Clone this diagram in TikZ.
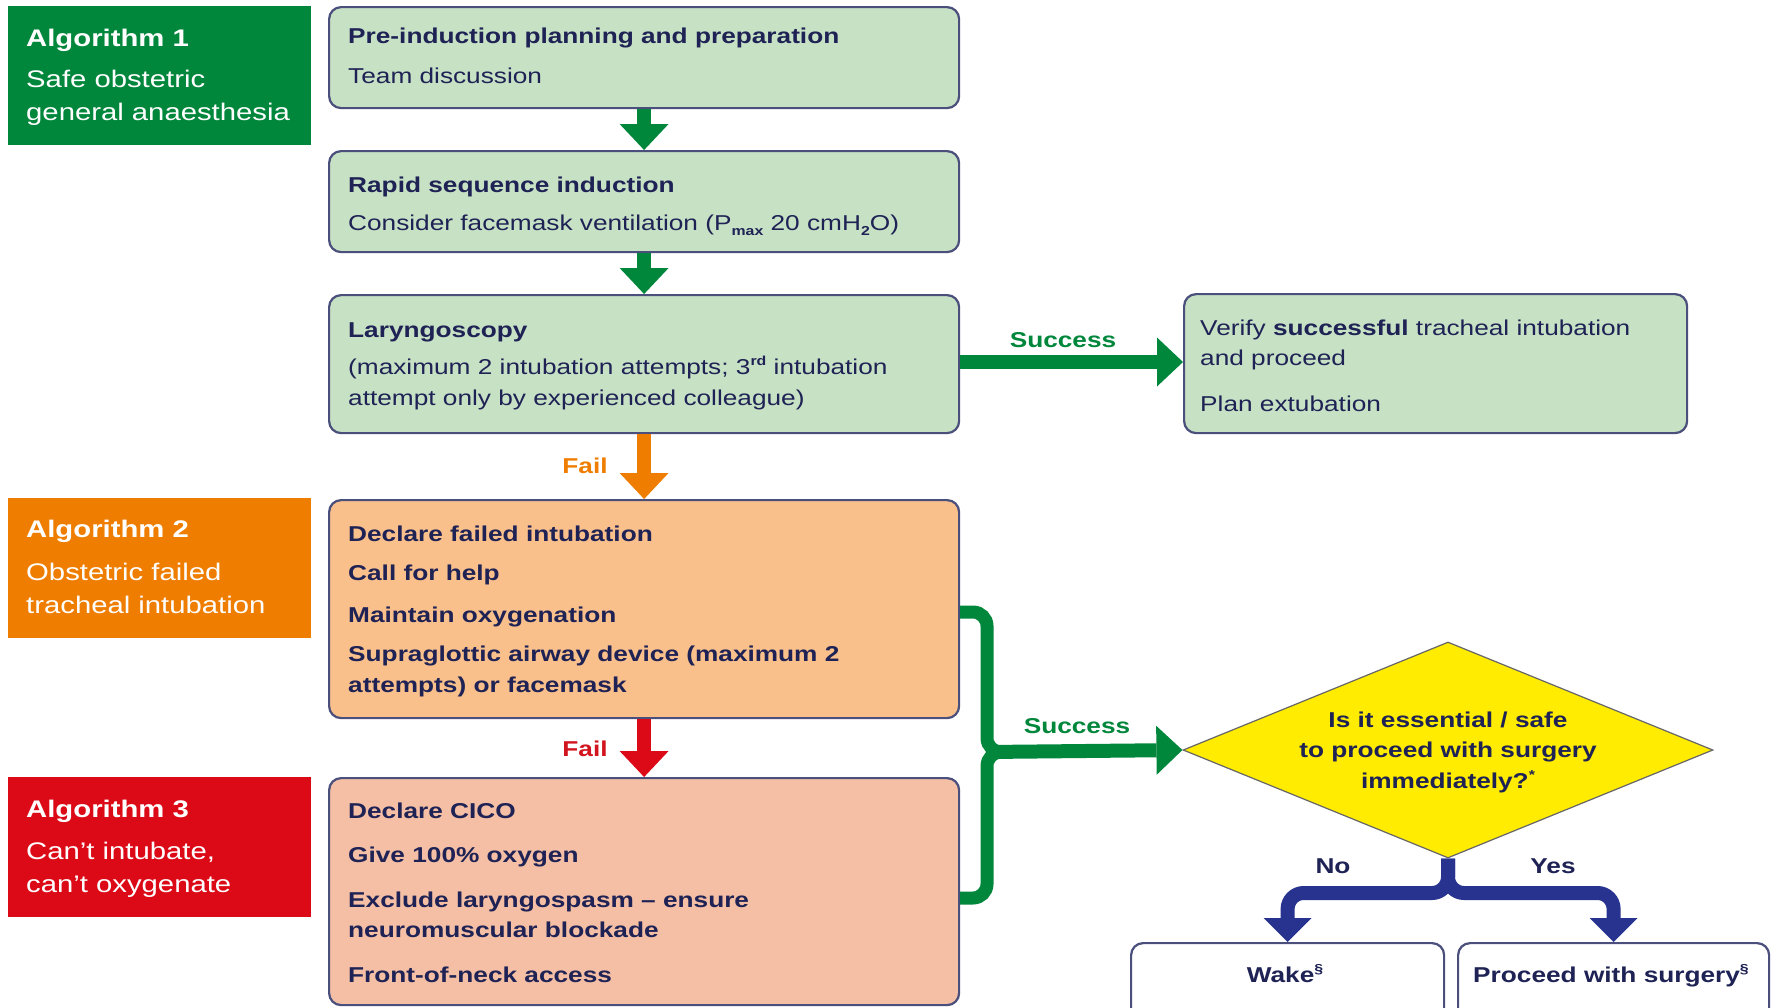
\documentclass[tikz,border=0pt]{standalone}
\usepackage{fontspec}
\setmainfont{Liberation Sans}[FakeStretch=1.22]
\usetikzlibrary{arrows.meta,shapes.geometric}

\definecolor{algGreen}{HTML}{00873C}
\definecolor{boxGreen}{HTML}{C7E1C5}
\definecolor{algOrange}{HTML}{EE7D00}
\definecolor{boxOrange}{HTML}{F9C08C}
\definecolor{algRed}{HTML}{DC0A17}
\definecolor{boxSalmon}{HTML}{F4BFA5}
\definecolor{navyText}{HTML}{1E2254}
\definecolor{borderNavy}{HTML}{4A4F7C}
\definecolor{arrowBlue}{HTML}{27338E}
\definecolor{diaYellow}{HTML}{FFEC00}
\definecolor{failRed}{HTML}{D2141E}

\newcommand{\bodyfont}{\fontsize{21.5}{30.5}\selectfont}
\newcommand{\labfont}{\fontsize{24}{33}\selectfont}
\newcommand{\mysubs}[1]{\raisebox{-0.5ex}{\fontsize{13}{13}\selectfont\bfseries #1}}
\newcommand{\mysups}[1]{\raisebox{0.75ex}{\fontsize{13}{13}\selectfont\bfseries #1}}

\begin{document}
\begin{tikzpicture}[x=1pt,y=-1pt,
  alglabel/.style={inner sep=0pt, anchor=north west},
  labtext/.style={anchor=base west, align=left, inner sep=0pt, text=white, font=\labfont},
  mainbox/.style={draw=borderNavy, line width=2.2pt, rounded corners=12pt, inner sep=0pt, anchor=north west},
  bodytext/.style={anchor=base west, align=left, inner sep=0pt, text=navyText, font=\bodyfont},
  centertext/.style={anchor=base, align=center, inner sep=0pt, text=navyText, font=\bodyfont\bfseries},
  arrlabel/.style={anchor=base, inner sep=0pt, font=\bodyfont\bfseries},
  greenarrow/.style={draw=algGreen, line width=14pt, -{Triangle[width=49pt,length=26pt,line width=0pt]}},
  orangearrow/.style={draw=algOrange, line width=14pt, -{Triangle[width=49pt,length=26pt,line width=0pt]}},
  redarrow/.style={draw=algRed, line width=14pt, -{Triangle[width=49pt,length=26pt,line width=0pt]}},
  bluearrow/.style={draw=arrowBlue, line width=14pt, rounded corners=16pt, -{Triangle[width=48pt,length=24pt,line width=0pt]}},
  greenline/.style={draw=algGreen, line width=13pt, rounded corners=14pt}
]
\clip (0,0) rectangle (1779,1007);
\fill[white] (0,0) rectangle (1779,1007);

% algorithm labels (text anchored at baseline of last line)
\node[alglabel, fill=algGreen, minimum width=303pt, minimum height=139pt] (alg1) at (8,6) {};
\node[labtext] (alg1t) at (26,120) {\textbf{Algorithm 1}\\[8pt] Safe obstetric\\ general anaesthesia};
\node[alglabel, fill=algOrange, minimum width=303pt, minimum height=140pt] (alg2) at (8,498) {};
\node[labtext] (alg2t) at (26,613) {\textbf{Algorithm 2}\\[10pt] Obstetric failed\\ tracheal intubation};
\node[alglabel, fill=algRed, minimum width=303pt, minimum height=140pt] (alg3) at (8,777) {};
\node[labtext] (alg3t) at (26,892) {\textbf{Algorithm 3}\\[9pt] Can’t intubate,\\ can’t oxygenate};

% main boxes
\node[mainbox, fill=boxGreen, minimum width=630pt, minimum height=101pt] (b1) at (328,6) {};
\node[mainbox, fill=boxGreen, minimum width=630pt, minimum height=101pt] (b2) at (328,150) {};
\node[mainbox, fill=boxGreen, minimum width=630pt, minimum height=138pt] (b3) at (328,294) {};
\node[mainbox, fill=boxOrange, minimum width=630pt, minimum height=218pt] (b4) at (328,499) {};
\node[mainbox, fill=boxSalmon, minimum width=630pt, minimum height=227pt] (b5) at (328,777) {};
\node[mainbox, fill=boxGreen, minimum width=503pt, minimum height=139pt] (bv) at (1183,293) {};
\node[mainbox, fill=white, minimum width=313pt, minimum height=100pt] (wake) at (1130,942) {};
\node[mainbox, fill=white, minimum width=311pt, minimum height=100pt] (proc) at (1457,942) {};

% texts (anchored at baseline of last line)
\node[bodytext] (t1) at (348,83) {\textbf{Pre-induction planning and preparation}\\[9pt] Team discussion};
\node[bodytext] (t2) at (348,230) {\textbf{Rapid sequence induction}\\[7pt] Consider facemask ventilation (P\mysubs{max} 20 cmH\mysubs{2}O)};
\node[bodytext] (t3) at (348,405) {\textbf{Laryngoscopy}\\[7pt] (maximum 2 intubation attempts; 3\mysups{rd} intubation\\ attempt only by experienced colleague)};
\node[bodytext, font=\bodyfont\bfseries] (t4) at (348,692) {Declare failed intubation\\[9pt] Call for help\\[11pt] Maintain oxygenation\\[9pt] Supraglottic airway device (maximum 2\\ attempts) or facemask};
\node[bodytext, font=\bodyfont\bfseries] (t5) at (348,982) {Declare CICO\\[14pt] Give 100\% oxygen\\[14pt] Exclude laryngospasm – ensure\\ neuromuscular blockade\\[14pt] Front-of-neck access};
\node[bodytext] (tv) at (1200,411) {Verify \textbf{successful} tracheal intubation\\ and proceed\\[15pt] Plan extubation};

% diamond
\node[diamond, draw=black!60, line width=1.2pt, fill=diaYellow, minimum width=530pt, minimum height=216pt, inner sep=0pt] (dia) at (1448,750) {};
\node[centertext] (diat) at (1448,788) {Is it essential / safe\\ to proceed with surgery\\ immediately?\mysups{*}};

\node[centertext] (waket) at (1285,982) {Wake\mysups{§}};
\node[centertext] (proct) at (1611,982) {Proceed with surgery\mysups{§}};

% vertical arrows
\draw[greenarrow] (b1.south) -- (b2.north);
\draw[greenarrow] (b2.south) -- (b3.north);
\draw[orangearrow] (b3.south) -- (b4.north);
\draw[redarrow] (b4.south) -- (b5.north);
\node[arrlabel, text=algOrange] (fail1) at (585,473) {Fail};
\node[arrlabel, text=failRed] (fail2) at (585,756) {Fail};

% success to verify
\draw[greenarrow] (b3.east |- 0,362) -- (bv.west |- 0,362);
\node[arrlabel, text=algGreen] (succ1) at (1063,347) {Success};

% bracket to diamond
\coordinate (junc) at (987,752);
\draw[greenline] (b4.east |- 0,612) -- (987,612) -- (987,752) -- (1005,752);
\draw[greenline] (b5.east |- 0,898) -- (987,898) -- (987,752) -- (1005,752);
\draw[greenarrow] (junc) -- (dia.west);
\node[arrlabel, text=algGreen] (succ2) at (1077,733) {Success};

% blue split
\draw[bluearrow] (dia.south) -- (1448,893) -- (wake.north |- 0,893) -- (wake.north);
\draw[bluearrow] (dia.south) -- (1448,893) -- (proc.north |- 0,893) -- (proc.north);
\node[arrlabel, text=navyText] (nolab) at (1333,873) {No};
\node[arrlabel, text=navyText] (yeslab) at (1553,873) {Yes};
\end{tikzpicture}
\end{document}
